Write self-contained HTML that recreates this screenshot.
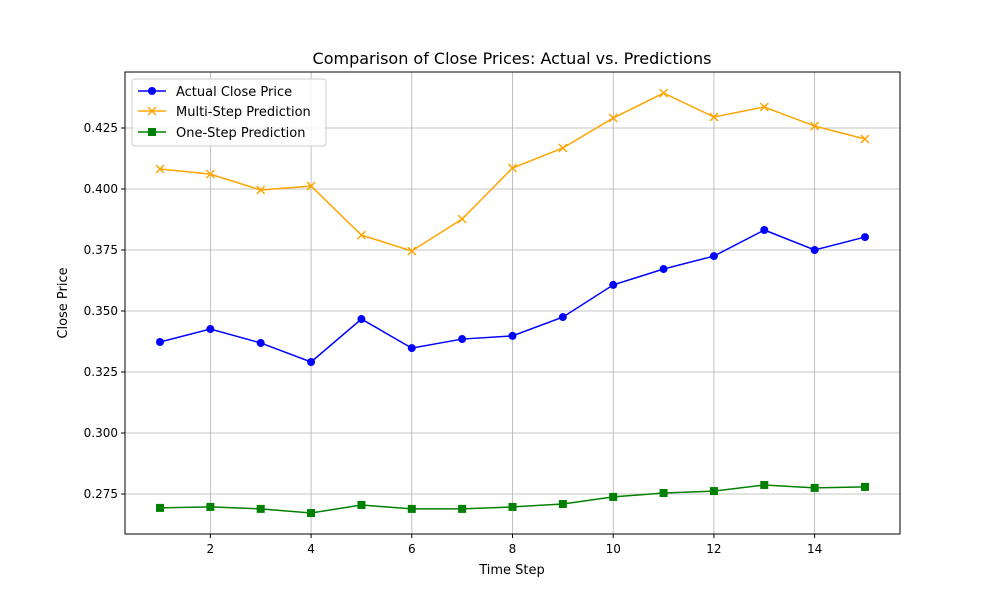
<!DOCTYPE html>
<html><head><meta charset="utf-8"><style>body{margin:0;background:#fff}svg{font-family:"DejaVu Sans","Liberation Sans",sans-serif}</style></head>
<body>
<svg id="chart" width="1000" height="600" xmlns="http://www.w3.org/2000/svg">
<rect width="1000" height="600" fill="#fff"/>
<g id="grid"></g>
<g id="series"></g>
<rect x="125" y="72" width="775" height="462" fill="none" stroke="#000" stroke-width="1"/>
<g id="axes"></g>
<text x="512" y="64" text-anchor="middle" font-size="16">Comparison of Close Prices: Actual vs. Predictions</text>
<text x="512" y="574" text-anchor="middle" font-size="13">Time Step</text>
<text transform="translate(67,303) rotate(-90)" text-anchor="middle" font-size="13">Close Price</text>
<g>
<rect x="132" y="79" width="194" height="67" rx="3" fill="#fff" fill-opacity="0.8" stroke="#ccc"/>
<line x1="138" y1="91" x2="166" y2="91" stroke="blue" stroke-width="1.5"/><circle cx="152" cy="91" r="4" fill="blue"/>
<text x="176" y="96" font-size="13">Actual Close Price</text>
<line x1="138" y1="111" x2="166" y2="111" stroke="orange" stroke-width="1.5"/><path d="M148,107L156,115M156,107L148,115" stroke="orange" stroke-width="1.5"/>
<text x="176" y="116" font-size="13">Multi-Step Prediction</text>
<line x1="138" y1="132" x2="166" y2="132" stroke="green" stroke-width="1.5"/><rect x="148" y="128" width="8" height="8" fill="green"/>
<text x="176" y="137" font-size="13">One-Step Prediction</text>
</g>
</svg>
<script>
const steps=[1,2,3,4,5,6,7,8,9,10,11,12,13,14,15];
const actual=[0.3373,0.3426,0.3369,0.3291,0.3467,0.3348,0.3385,0.3398,0.3475,0.3607,0.3672,0.3725,0.3832,0.375,0.3803];
const multi=[0.4082,0.4061,0.3996,0.4012,0.3811,0.3746,0.3877,0.4086,0.4168,0.4291,0.4393,0.4295,0.4336,0.4258,0.4205];
const one=[0.2693,0.2697,0.2689,0.2672,0.2705,0.2689,0.2689,0.2697,0.2709,0.2738,0.2754,0.2762,0.2787,0.2775,0.2779];
const xTicks=[2,4,6,8,10,12,14];
const yTicks=[0.275,0.300,0.325,0.350,0.375,0.400,0.425];
const X=v=>160+(v-1)*(705/14);
const Y=v=>494-(v-0.275)/0.025*61;
const NS="http://www.w3.org/2000/svg";
function mk(t,a,p){const e=document.createElementNS(NS,t);for(const k in a)e.setAttribute(k,a[k]);p.appendChild(e);return e;}
const grid=document.getElementById('grid'),axes=document.getElementById('axes'),ser=document.getElementById('series');
xTicks.forEach(t=>{const x=X(t);
const g=mk('line',{x1:x,x2:x,y1:72,y2:534,stroke:'#b0b0b0','stroke-width':0.8},grid);


mk('line',{x1:x,x2:x,y1:534,y2:538,stroke:'#000'},axes);
const l=mk('text',{x:x,y:553,'text-anchor':'middle','font-size':12},axes);l.textContent=t;

});
yTicks.forEach(t=>{const y=Y(t);
const g=mk('line',{x1:125,x2:900,y1:y,y2:y,stroke:'#b0b0b0','stroke-width':0.8},grid);


mk('line',{x1:121,x2:125,y1:y,y2:y,stroke:'#000'},axes);
const l=mk('text',{x:118,y:y+4,'text-anchor':'end','font-size':12},axes);l.textContent=t.toFixed(3);

});
function series(vals,color,marker,name){
const p=mk('polyline',{points:vals.map((v,i)=>X(steps[i])+','+Y(v)).join(' '),fill:'none',stroke:color,'stroke-width':1.5},ser);


vals.forEach((v,i)=>{const x=X(steps[i]),y=Y(v);let m;
if(marker==='o')m=mk('circle',{cx:x,cy:y,r:4,fill:color},ser);
else if(marker==='s')m=mk('rect',{x:x-4,y:y-4,width:8,height:8,fill:color},ser);
else m=mk('path',{d:`M${x-4},${y-4}L${x+4},${y+4}M${x+4},${y-4}L${x-4},${y+4}`,stroke:color,'stroke-width':1.5},ser);

});}
series(actual,'blue','o','actual');
series(multi,'orange','x','multi-step');
series(one,'green','s','one-step');
</script>
</body></html>
